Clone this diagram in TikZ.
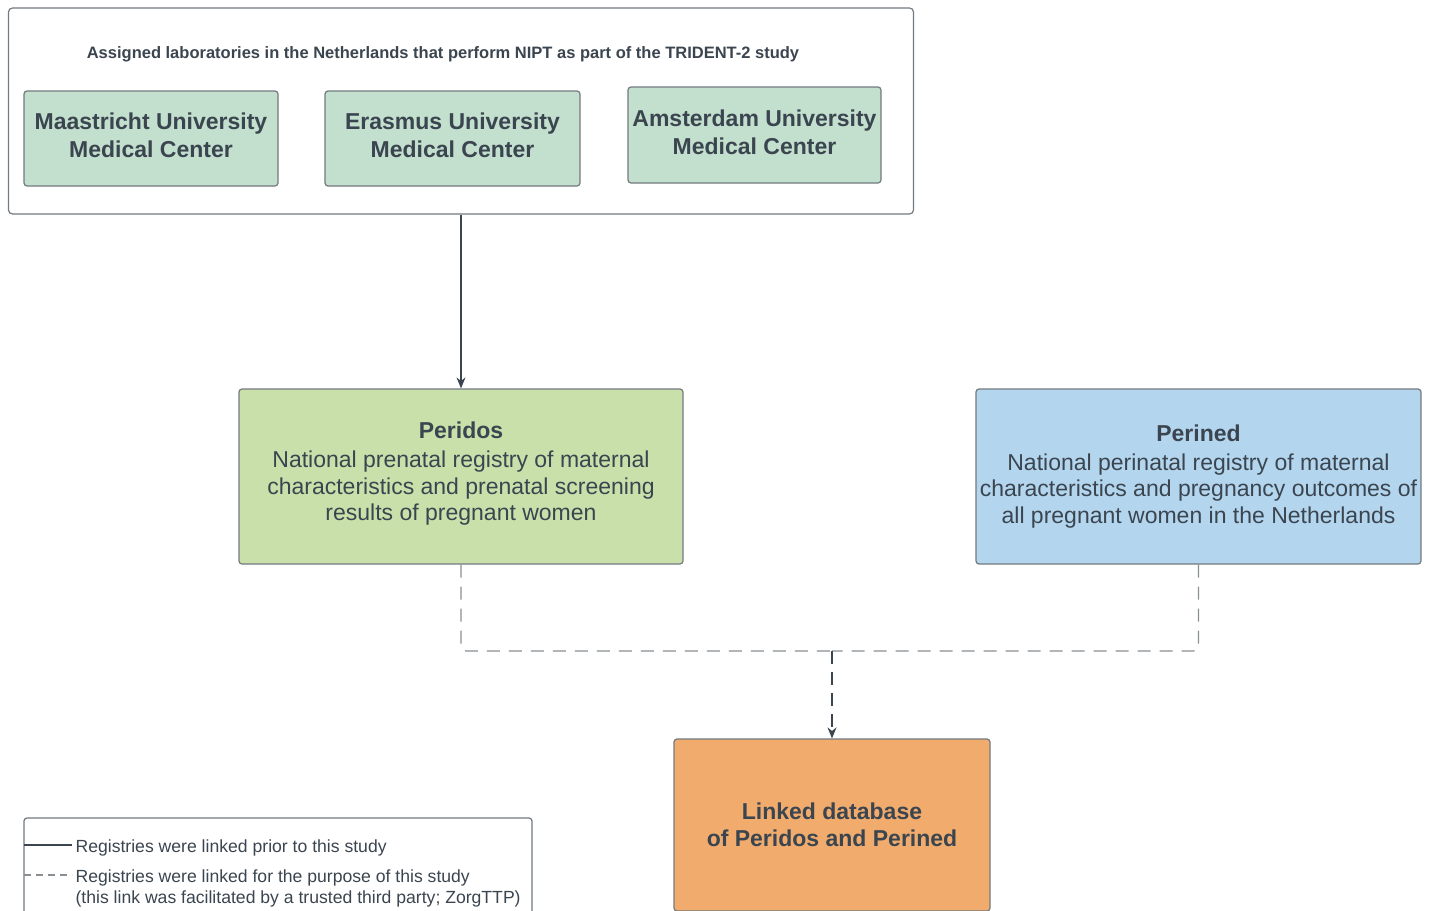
\documentclass[tikz,border=0pt]{standalone}
\usepackage{fontspec}
\setmainfont{Liberation Sans}
\usetikzlibrary{arrows.meta,positioning}
\definecolor{ink}{HTML}{3B4550}
\definecolor{rim}{HTML}{737A80}
\definecolor{dashgray}{HTML}{8A8F94}
\definecolor{labfill}{HTML}{C3DFCD}
\definecolor{peridosfill}{HTML}{C9E0AA}
\definecolor{perinedfill}{HTML}{B3D6EE}
\definecolor{linkfill}{HTML}{F1AB6C}
\tikzset{
  >={Stealth[length=11pt,width=9pt]},
  every picture/.style={line width=1.2pt},
  bx/.style={draw=rim,rounded corners=3pt,align=center,inner sep=0pt,text=ink},
  labbox/.style={bx,fill=labfill,minimum width=254pt,minimum height=95pt,text depth=6.5pt,font=\bfseries\fontsize{23}{28}\selectfont},
  regbox/.style={bx,minimum width=445pt,minimum height=175pt,font=\fontsize{23}{26.5}\selectfont},
  solidlink/.style={->,draw=ink},
  dashlink/.style={draw=dashgray,dash pattern=on 13pt off 9pt,rounded corners=5pt},
  legtxt/.style={anchor=west,align=left,text=ink,inner sep=0pt,font=\fontsize{17.6}{21}\selectfont},
}

\begin{document}
\begin{tikzpicture}[x=1pt,y=-1pt]
  \useasboundingbox (0,0) rectangle (1437,910);
  \clip (0,0) rectangle (1437,910);
  \node[bx,fill=white,rounded corners=4pt,minimum width=905pt,minimum height=206pt] (labs) at (461,111) {};
  \node[text=ink,font=\bfseries\fontsize{16.5}{19}\selectfont] (title) at (443,54) {Assigned laboratories in the Netherlands that perform NIPT as part of the TRIDENT-2 study};
  \node[labbox] (maastricht) at (151,138.5) {Maastricht University\\Medical Center};
  \node[labbox,minimum width=255pt] (erasmus) at (452.5,138.5) {Erasmus University\\Medical Center};
  \node[labbox,minimum width=253pt,minimum height=96pt] (amsterdam) at (754.5,135) {Amsterdam University\\Medical Center};

  \node[regbox,fill=peridosfill,minimum width=444pt,text depth=10.5pt] (peridos) at (461,476.5) {\textbf{Peridos}\\[2.5pt]National prenatal registry of maternal\\characteristics and prenatal screening\\results of pregnant women};
  \node[regbox,fill=perinedfill] (perined) at (1198.5,476.5) {\textbf{Perined}\\[2.5pt]National perinatal registry of maternal\\characteristics and pregnancy outcomes of\\all pregnant women in the Netherlands};
  \node[bx,fill=linkfill,minimum width=316pt,minimum height=172pt,font=\bfseries\fontsize{23}{27}\selectfont] (linked) at (832,825) {Linked database\\of Peridos and Perined};

  \draw[solidlink] (labs.south) -- (peridos.north);
  \coordinate (join) at (832,651);
  \draw[dashlink] (peridos.south) |- (join);
  \draw[dashlink] (perined.south) |- (join);
  \draw[->,draw=ink,dash pattern=on 13pt off 8pt] (join) -- (linked.north);

  \node[bx,fill=white,minimum width=508pt,minimum height=112pt] (legend) at (278,874) {};
  \coordinate (s1) at (24,845);
  \coordinate (s2) at (72,845);
  \draw[ink] (s1) -- (s2);
  \node[legtxt] (leg1) at (75,848) {Registries were linked prior to this study};
  \coordinate (d1) at (24,875);
  \coordinate (d2) at (72,875);
  \draw[dashgray,dash pattern=on 7pt off 5pt] (d1) -- (d2);
  \node[legtxt] (leg2) at (75,888) {Registries were linked for the purpose of this study\\(this link was facilitated by a trusted third party; ZorgTTP)};
\end{tikzpicture}
\end{document}
